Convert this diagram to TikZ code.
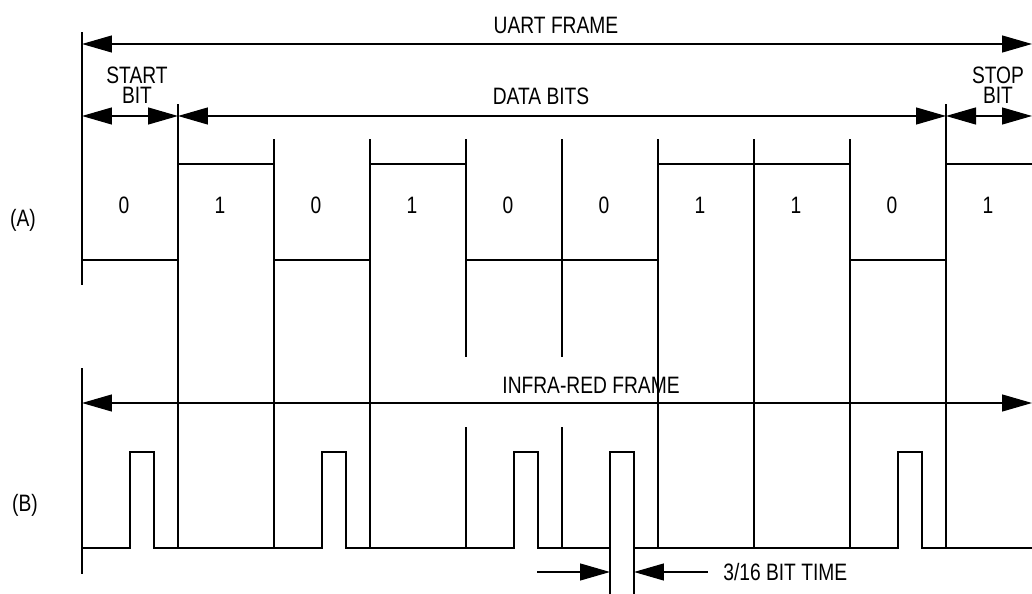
\documentclass[tikz,border=0pt]{standalone}
\usepackage{fontspec}
\setmainfont{Liberation Sans}[FakeStretch=0.81]
\usetikzlibrary{arrows.meta}

\tikzset{
  wire/.style={line width=0.7pt, line cap=rect},
  tip/.style={-{Triangle[length=0.6cm,width=0.34cm]}},
  dim/.style={line width=0.7pt,
    {Triangle[length=0.6cm,width=0.34cm]}-{Triangle[length=0.6cm,width=0.34cm]}},
  lbl/.style={inner sep=0pt, font=\fontsize{13.5}{14}\selectfont}
}

\begin{document}
\begin{tikzpicture}[x=0.02cm, y=-0.02cm]
\useasboundingbox (0,0) rectangle (1032,594);

%% ── Bit boundaries and row levels ────────────────────────────────
\foreach \i in {0,...,9} \coordinate (b\i) at ({82+96*\i},0);
\coordinate (bE)   at (1032,0);
\coordinate (rowU) at (0,44);
\coordinate (rowS) at (0,116);
\coordinate (rowI) at (0,403);
\coordinate (rowT) at (0,572);

%% ── Bit cell dividers ────────────────────────────────────────────
\draw[wire] (82,33) -- (82,284) (82,369) -- (82,573);
\draw[wire] (b1 |- 0,105) -- (b1 |- 0,548) (b9 |- 0,105) -- (b9 |- 0,548);
\foreach \i in {2,3,6,7,8}
  \draw[wire] (b\i |- 0,140) -- (b\i |- 0,548);
\foreach \i in {4,5}
  \draw[wire] (b\i |- 0,140) -- (b\i |- 0,356) (b\i |- 0,428) -- (b\i |- 0,548);

%% ── Frame dimensions ─────────────────────────────────────────────
\draw[dim] (b0 |- rowU) -- (bE |- rowU);
\draw[dim] (b0 |- rowS) -- (b1 |- rowS);
\draw[dim] (b1 |- rowS) -- (b9 |- rowS);
\draw[dim] (b9 |- rowS) -- (bE |- rowS);
\draw[dim] (b0 |- rowI) -- (bE |- rowI);

\node[lbl] (uart)   at (556,25)  {UART FRAME};
\node[lbl] (start)  at (137,75)  {START};
\node[lbl] (startb) at (137,95)  {BIT};
\node[lbl] (data)   at (541,96)  {DATA BITS};
\node[lbl] (stop)   at (998,75)  {STOP};
\node[lbl] (stopb)  at (998,95)  {BIT};
\node[lbl] (irda)   at (591,385) {INFRA-RED FRAME};

%% ── (A) UART waveform ────────────────────────────────────────────
\draw[wire] (82,260) -- (178,260) -- (178,164) -- (274,164) -- (274,260)
  -- (370,260) -- (370,164) -- (466,164) -- (466,260) -- (658,260)
  -- (658,164) -- (850,164) -- (850,260) -- (946,260) -- (946,164) -- (1032,164);
\foreach \v [count=\k from 0] in {0,1,0,1,0,0,1,1,0,1}
  \node[lbl] (bit\k) at ({124+96*\k},205) {\v};
\node[lbl] (labA) at (23,220) {(A)};

%% ── (B) infra-red pulses ─────────────────────────────────────────
\draw[wire] (82,548) \foreach \k in {0,2,4,5,8} {
    -- ({130+96*\k},548) -- ++(0,-96) -- ++(24,0) -- ++(0,96) } -- (1032,548);
\node[lbl] (labB) at (25,505) {(B)};

%% ── Pulse width ──────────────────────────────────────────────────
\coordinate (pw1) at (610,548);
\coordinate (pw2) at (634,548);
\draw[wire] (pw1) -- (pw1 |- 0,594) (pw2) -- (pw2 |- 0,594);
\coordinate (pwL) at (538,572);
\node[lbl, anchor=west] (ptime) at (723,572) {3/16 BIT TIME};
\draw[wire, tip] (pwL) -- (pw1 |- rowT);
\draw[wire, tip] ([xshift=-0.32cm]ptime.west) -- (pw2 |- rowT);
\end{tikzpicture}
\end{document}
